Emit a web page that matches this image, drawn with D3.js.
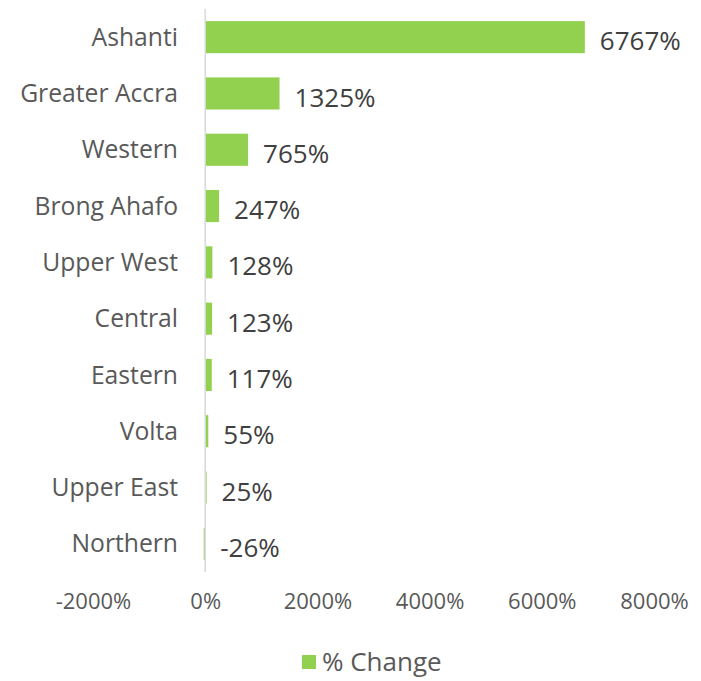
<!DOCTYPE html>
<html>
<head>
<meta charset="utf-8">
<script src="https://cdn.jsdelivr.net/npm/d3@7"></script>
<style>
  body { margin: 0; background: #fff; }
  text { font-family: "Open Sans", "Noto Sans", sans-serif; }
</style>
</head>
<body>
<div id="chart"></div>
<script>
// regions and % change, top to bottom
const regions = ["Ashanti", "Greater Accra", "Western", "Brong Ahafo", "Upper West",
                 "Central", "Eastern", "Volta", "Upper East", "Northern"];
const change = [6767, 1325, 765, 247, 128, 123, 117, 55, 25, -26];
const ticks = [-2000, 0, 2000, 4000, 6000, 8000];
const seriesName = "% Change";

const width = 701, height = 681;
const margin = {top: 9, right: 47, bottom: 109, left: 93};

const svg = d3.select("#chart").append("svg")
    .attr("width", width)
    .attr("height", height);

const x = d3.scaleLinear()
    .domain([-2000, 8000])
    .range([margin.left, width - margin.right]);

const y = d3.scaleBand()
    .domain(regions)
    .range([margin.top, height - margin.bottom])
    .paddingInner(0.43)
    .paddingOuter(0.215);

const data = regions.map((r, i) => ({region: r, value: change[i]}));

// bars
svg.selectAll("rect.bar")
    .data(data)
    .join("rect")
    .attr("class", "bar")
    .attr("x", d => x(Math.min(0, d.value)))
    .attr("y", d => y(d.region))
    .attr("width", d => Math.abs(x(d.value) - x(0)))
    .attr("height", y.bandwidth())
    .attr("fill", "#92d050");

// zero axis line
svg.append("line")
    .attr("x1", x(0)).attr("x2", x(0))
    .attr("y1", margin.top).attr("y2", height - margin.bottom)
    .attr("stroke", "#d9d9d9")
    .attr("stroke-width", 1.5);

// category labels
svg.selectAll("text.cat")
    .data(data)
    .join("text")
    .attr("class", "cat")
    .attr("x", 178)
    .attr("y", d => y(d.region) + y.bandwidth() / 2)
    .attr("dy", "0.35em")
    .attr("text-anchor", "end")
    .attr("font-size", "24.7px")
    .attr("fill", "#595959")
    .text(d => d.region);

// value labels
svg.selectAll("text.val")
    .data(data)
    .join("text")
    .attr("class", "val")
    .attr("x", d => x(Math.max(0, d.value)) + 15)
    .attr("y", d => y(d.region) + y.bandwidth() / 2 + 4)
    .attr("dy", "0.35em")
    .attr("font-size", "26px")
    .attr("fill", "#404040")
    .text(d => d.value + "%");

// x axis tick labels
const xAxis = d3.axisBottom(x)
    .tickValues(ticks)
    .tickFormat(d => d + "%")
    .tickSize(0)
    .tickPadding(0);

const gx = svg.append("g")
    .attr("transform", `translate(0, ${height - margin.bottom + 21})`)
    .call(xAxis);
gx.select(".domain").remove();
gx.selectAll("text")
    .attr("font-size", "22px")
    .attr("fill", "#595959")
    .attr("font-family", "'Open Sans', 'Noto Sans', sans-serif");

// legend
const legend = svg.append("g").attr("transform", "translate(302, 655)");
legend.append("rect")
    .attr("width", 14).attr("height", 14)
    .attr("fill", "#92d050");
legend.append("text")
    .attr("x", 20)
    .attr("y", 7)
    .attr("dy", "0.35em")
    .attr("font-size", "26px")
    .attr("fill", "#595959")
    .text(seriesName);
</script>
</body>
</html>
